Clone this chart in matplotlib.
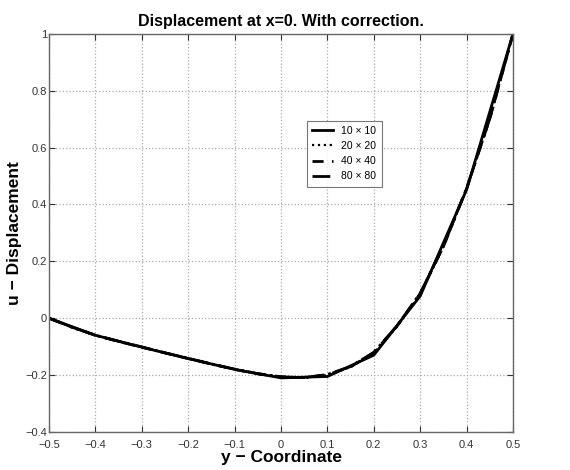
import matplotlib
matplotlib.use("Agg")
import matplotlib.pyplot as plt

plt.rcParams['font.family'] = ['Liberation Sans', 'DejaVu Sans']

x10 = [-0.5, -0.4, -0.3, -0.2, -0.1, 0.0, 0.1, 0.2, 0.3, 0.4, 0.5]
u10 = [0.0, -0.060, -0.102, -0.142, -0.180, -0.210, -0.205, -0.130, 0.078, 0.452, 1.0]

xf = [-0.5, -0.45, -0.4, -0.35, -0.3, -0.25, -0.2, -0.15, -0.1, -0.05, 0.0,
      0.05, 0.1, 0.15, 0.2, 0.25, 0.3, 0.35, 0.4, 0.45, 0.5]
u20 = [0.0, -0.033, -0.061, -0.082, -0.102, -0.122, -0.142, -0.162, -0.180, -0.196, -0.207,
       -0.210, -0.200, -0.172, -0.123, -0.030, 0.085, 0.250, 0.455, 0.700, 1.0]
u40 = [0.0, -0.032, -0.060, -0.082, -0.102, -0.122, -0.142, -0.161, -0.180, -0.196, -0.206,
       -0.209, -0.199, -0.171, -0.121, -0.028, 0.087, 0.252, 0.456, 0.701, 1.0]
u80 = [0.0, -0.032, -0.060, -0.081, -0.101, -0.122, -0.141, -0.161, -0.179, -0.195, -0.206,
       -0.209, -0.198, -0.170, -0.120, -0.027, 0.088, 0.253, 0.457, 0.702, 1.0]

labels = ['10 \u00d7 10', '20 \u00d7 20', '40 \u00d7 40', '80 \u00d7 80']
xticks = [-0.5, -0.4, -0.3, -0.2, -0.1, 0, 0.1, 0.2, 0.3, 0.4, 0.5]
xticklabels = ['\u22120.5', '\u22120.4', '\u22120.3', '\u22120.2', '\u22120.1', '0',
               '0.1', '0.2', '0.3', '0.4', '0.5']
yticks = [-0.4, -0.2, 0, 0.2, 0.4, 0.6, 0.8, 1]
yticklabels = ['\u22120.4', '\u22120.2', '0', '0.2', '0.4', '0.6', '0.8', '1']

fig = plt.figure(figsize=(5.7, 4.7), dpi=100)
ax = fig.add_axes([0.086, 0.081, 0.814, 0.847])

ax.plot(x10, u10, color='black', lw=2.0, ls='-', label=labels[0])
ax.plot(xf, u20, color='black', lw=1.6, ls=':', label=labels[1])
ax.plot(xf, u40, color='black', lw=2.0, ls=(0, (4, 3)), label=labels[2])
ax.plot(xf, u80, color='black', lw=2.0, ls='-.', label=labels[3])

ax.set_xlim(-0.5, 0.5)
ax.set_ylim(-0.4, 1.0)
ax.set_xticks(xticks)
ax.set_xticklabels(xticklabels)
ax.set_yticks(yticks)
ax.set_yticklabels(yticklabels)
ax.tick_params(direction='in', top=True, right=True, labelsize=8, colors='#333333',
               length=4)
ax.tick_params(axis='x', pad=6)
ax.tick_params(axis='y', pad=1.5)
for s in ax.spines.values():
    s.set_color('#666666')
    s.set_linewidth(1.0)
ax.grid(True, ls=':', color='#aaaaaa', lw=0.9)

ax.set_title('Displacement at x=0. With correction.', fontsize=11.5, fontweight='bold', pad=6)
ax.set_xlabel('y \u2212 Coordinate', fontsize=12.5, fontweight='bold', labelpad=0)
ax.set_ylabel('u \u2212 Displacement', fontsize=12.5, fontweight='bold', labelpad=2)

leg = ax.legend(loc='upper left', bbox_to_anchor=(0.545, 0.795), fontsize=7.5,
                frameon=True, fancybox=False, edgecolor='#555555', handlelength=2.0,
                borderpad=0.5, labelspacing=0.5, handletextpad=0.8)
leg.get_frame().set_linewidth(0.8)

fig.savefig('out.png', dpi=100)
